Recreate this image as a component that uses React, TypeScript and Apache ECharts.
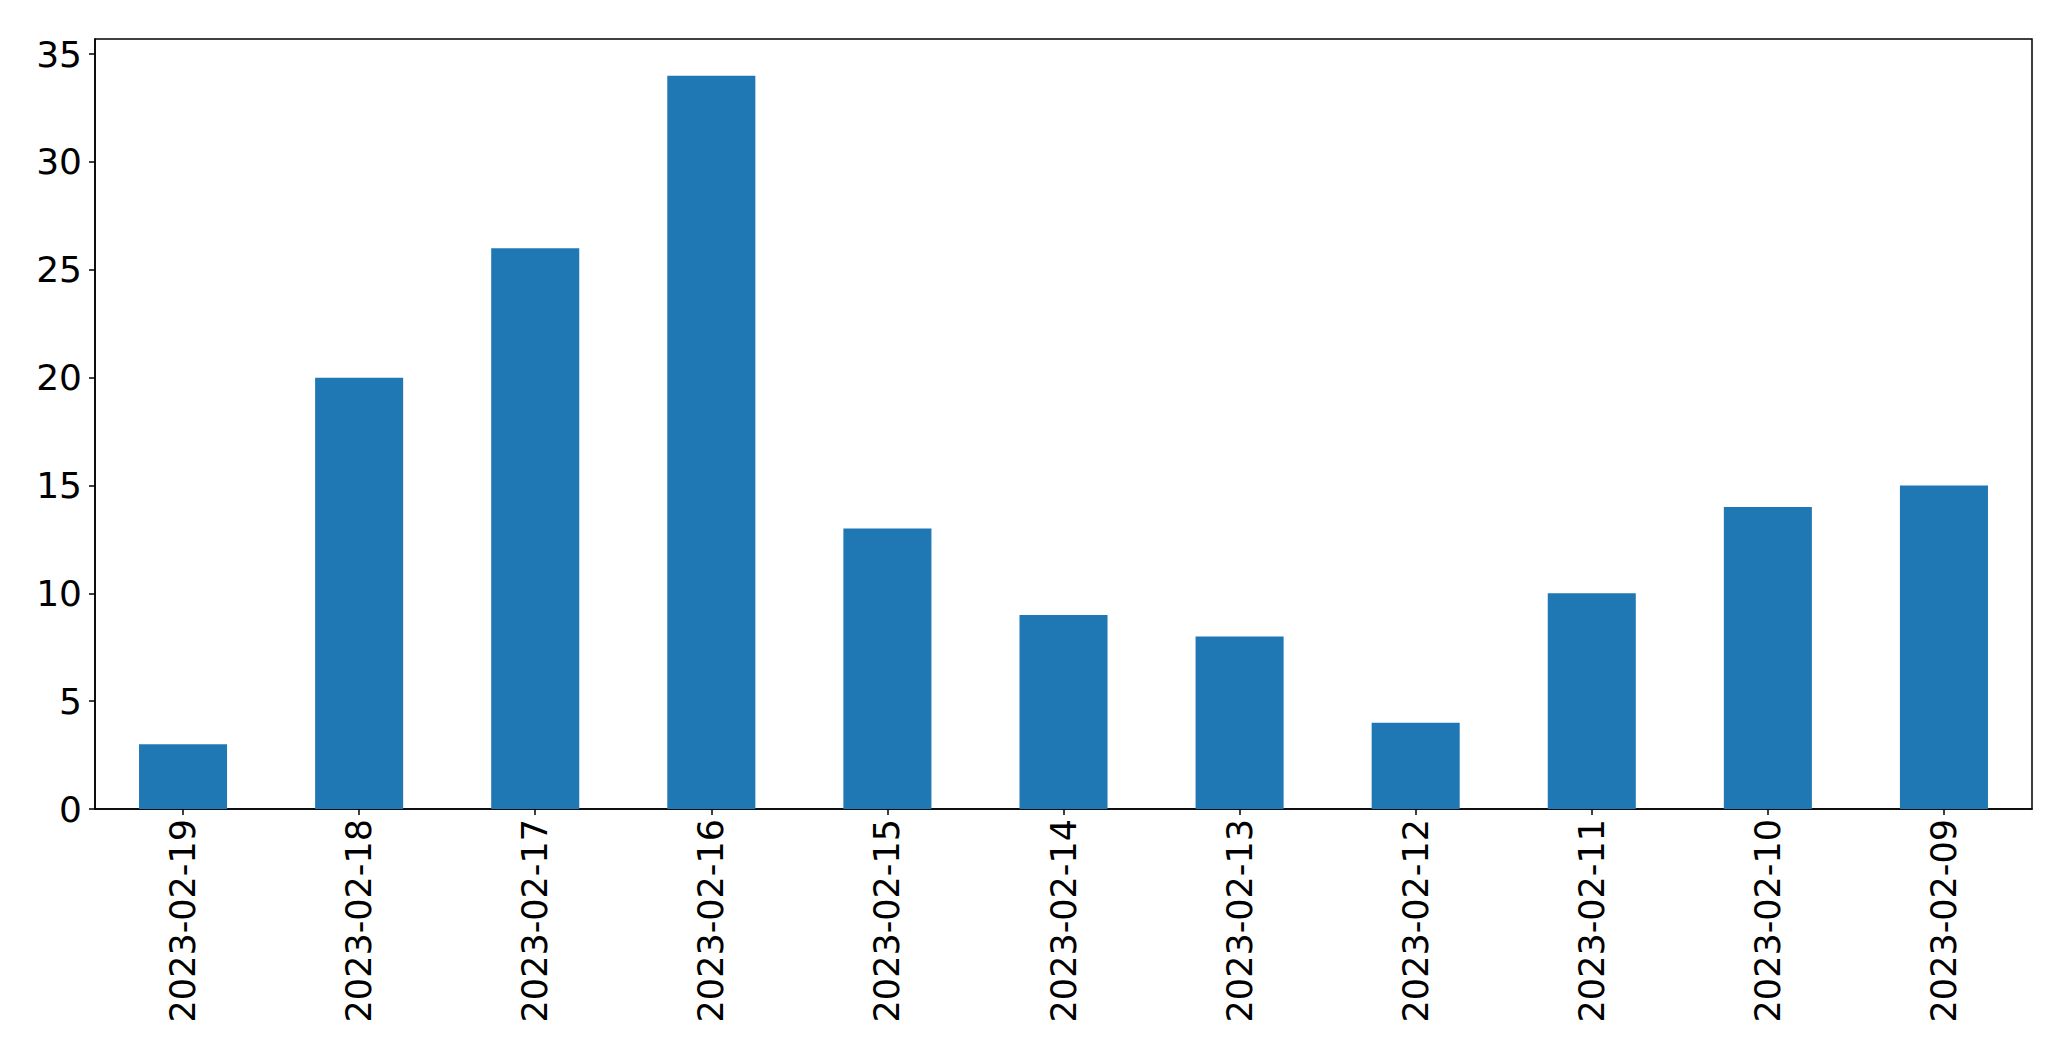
import React, { useEffect, useRef } from "react";
import * as echarts from "echarts";

const categories = [
  "2023-02-19",
  "2023-02-18",
  "2023-02-17",
  "2023-02-16",
  "2023-02-15",
  "2023-02-14",
  "2023-02-13",
  "2023-02-12",
  "2023-02-11",
  "2023-02-10",
  "2023-02-09",
];
const values = [3, 20, 26, 34, 13, 9, 8, 4, 10, 14, 15];
const yMax = 35.7;
const yStep = 5;

export default function App() {
  const ref = useRef<HTMLDivElement>(null);
  useEffect(() => {
    if (!ref.current) return;
    const chart = echarts.init(ref.current, null, { renderer: "svg" });
    const font = "DejaVu Sans";
    chart.setOption({
      animation: false,
      backgroundColor: "#ffffff",
      grid: {
        left: 95,
        top: 39,
        right: 39,
        bottom: 252,
        containLabel: false,
        show: true,
        borderColor: "#000000",
        borderWidth: 1.5,
        backgroundColor: "transparent",
      },
      xAxis: {
        type: "category",
        data: categories,
        boundaryGap: true,
        axisLine: { show: true, lineStyle: { color: "#000000", width: 1.5 } },
        axisTick: {
          show: true,
          alignWithLabel: true,
          length: 6,
          lineStyle: { color: "#000000", width: 1.5 },
        },
        axisLabel: {
          rotate: 90,
          margin: 10,
          color: "#000000",
          fontFamily: font,
          fontSize: 35,
          interval: 0,
        },
        splitLine: { show: false },
      },
      yAxis: {
        type: "value",
        min: 0,
        max: yMax,
        interval: yStep,
        axisLine: { show: true, lineStyle: { color: "#000000", width: 1.5 } },
        axisTick: {
          show: true,
          length: 6,
          lineStyle: { color: "#000000", width: 1.5 },
        },
        axisLabel: {
          margin: 13,
          color: "#000000",
          fontFamily: font,
          fontSize: 36,
          showMaxLabel: false,
          formatter: (v: number) => (v % yStep === 0 ? String(v) : ""),
        },
        splitLine: { show: false },
      },
      series: [
        {
          type: "bar",
          data: values,
          barCategoryGap: "50%",
          itemStyle: { color: "#1f77b4" },
        },
      ],
    });
    return () => chart.dispose();
  }, []);
  return (
    <div
      ref={ref}
      style={{ position: "absolute", left: 0, top: 0, width: 2071, height: 1061 }}
    />
  );
}
